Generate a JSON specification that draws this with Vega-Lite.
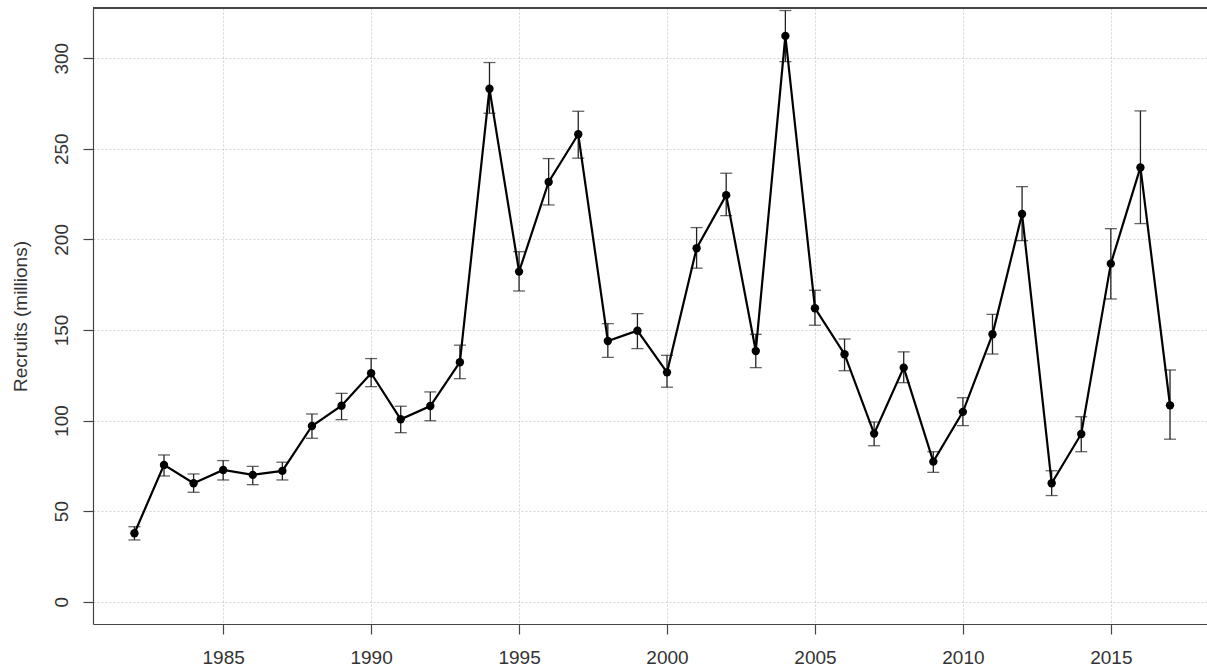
{
  "$schema": "https://vega.github.io/schema/vega-lite/v6.json",
  "autosize": {"type": "none"},
  "padding": {"left": 93, "top": 8, "right": 0, "bottom": 45},
  "width": 1114,
  "height": 616,
  "background": "white",
  "config": {
    "view": {"stroke": null},
    "font": "Liberation Sans",
    "axis": {
      "labelFont": "Liberation Sans",
      "labelFontSize": 19,
      "labelColor": "#333",
      "titleFont": "Liberation Sans",
      "titleFontSize": 19,
      "titleFontWeight": "normal",
      "titleColor": "#333",
      "domainColor": "#444",
      "domainWidth": 1.2,
      "tickColor": "#444",
      "tickWidth": 1.2,
      "tickSize": 10,
      "grid": true,
      "gridColor": "#d3d3d3",
      "gridDash": [2, 2],
      "gridWidth": 1
    }
  },
  "data": {
    "values": [
      {"year": 1982, "recruits": 37.8, "lo": 34.1, "hi": 41.4},
      {"year": 1983, "recruits": 75.5, "lo": 69.4, "hi": 81.0},
      {"year": 1984, "recruits": 65.4, "lo": 60.4, "hi": 70.5},
      {"year": 1985, "recruits": 72.7, "lo": 67.2, "hi": 77.9},
      {"year": 1986, "recruits": 70.0, "lo": 64.6, "hi": 74.7},
      {"year": 1987, "recruits": 72.2, "lo": 67.2, "hi": 77.0},
      {"year": 1988, "recruits": 97.0, "lo": 90.2, "hi": 103.6},
      {"year": 1989, "recruits": 108.2, "lo": 100.5, "hi": 115.0},
      {"year": 1990, "recruits": 126.1, "lo": 118.7, "hi": 134.2},
      {"year": 1991, "recruits": 100.7, "lo": 93.3, "hi": 107.9},
      {"year": 1992, "recruits": 108.0, "lo": 99.9, "hi": 115.8},
      {"year": 1993, "recruits": 132.2, "lo": 123.1, "hi": 141.6},
      {"year": 1994, "recruits": 283.1, "lo": 269.6, "hi": 297.6},
      {"year": 1995, "recruits": 182.2, "lo": 171.5, "hi": 193.2},
      {"year": 1996, "recruits": 231.7, "lo": 219.0, "hi": 244.6},
      {"year": 1997, "recruits": 258.0, "lo": 244.8, "hi": 270.7},
      {"year": 1998, "recruits": 143.9, "lo": 134.9, "hi": 153.5},
      {"year": 1999, "recruits": 149.6, "lo": 139.7, "hi": 159.0},
      {"year": 2000, "recruits": 126.6, "lo": 118.4, "hi": 136.0},
      {"year": 2001, "recruits": 195.1, "lo": 184.1, "hi": 206.5},
      {"year": 2002, "recruits": 224.4, "lo": 213.1, "hi": 236.5},
      {"year": 2003, "recruits": 138.4, "lo": 129.2, "hi": 147.6},
      {"year": 2004, "recruits": 312.3, "lo": 298.1, "hi": 326.3},
      {"year": 2005, "recruits": 162.0, "lo": 152.6, "hi": 171.9},
      {"year": 2006, "recruits": 136.6, "lo": 127.5, "hi": 145.0},
      {"year": 2007, "recruits": 92.8, "lo": 86.1, "hi": 99.2},
      {"year": 2008, "recruits": 129.2, "lo": 120.9, "hi": 137.9},
      {"year": 2009, "recruits": 77.3, "lo": 71.4, "hi": 82.8},
      {"year": 2010, "recruits": 104.8, "lo": 97.2, "hi": 112.6},
      {"year": 2011, "recruits": 147.6, "lo": 136.7, "hi": 158.6},
      {"year": 2012, "recruits": 214.0, "lo": 199.3, "hi": 229.1},
      {"year": 2013, "recruits": 65.4, "lo": 58.6, "hi": 72.3},
      {"year": 2014, "recruits": 92.6, "lo": 82.8, "hi": 102.1},
      {"year": 2015, "recruits": 186.6, "lo": 167.1, "hi": 205.9},
      {"year": 2016, "recruits": 239.7, "lo": 208.7, "hi": 270.9},
      {"year": 2017, "recruits": 108.4, "lo": 89.7, "hi": 127.9}
    ]
  },
  "encoding": {
    "x": {
      "field": "year",
      "type": "quantitative",
      "scale": {"domain": [1980.6, 2018.25], "nice": false, "zero": false},
      "axis": {
        "title": null,
        "values": [1985, 1990, 1995, 2000, 2005, 2010, 2015],
        "format": "d",
        "labelPadding": 14,
        "labelFlush": false
      }
    }
  },
  "layer": [
    {
      "mark": {
        "type": "errorbar",
        "ticks": {"size": 12},
        "color": "#222",
        "thickness": 1.3
      },
      "encoding": {
        "y": {
          "field": "lo",
          "type": "quantitative",
          "scale": {"domain": [-12.3, 327.7], "nice": false, "zero": false},
          "axis": {
            "title": "Recruits (millions)",
            "values": [0, 50, 100, 150, 200, 250, 300],
            "labelAngle": -90,
            "labelAlign": "center",
            "labelBaseline": "bottom",
            "labelPadding": 12,
            "titlePadding": 22,
            "labelFlush": false
          }
        },
        "y2": {"field": "hi"}
      }
    },
    {
      "mark": {"type": "line", "color": "black", "strokeWidth": 2.2},
      "encoding": {
        "y": {"field": "recruits", "type": "quantitative"}
      }
    },
    {
      "mark": {"type": "point", "filled": true, "color": "black", "opacity": 1, "size": 70},
      "encoding": {
        "y": {"field": "recruits", "type": "quantitative"}
      }
    },
    {
      "mark": {"type": "rule", "color": "#444", "strokeWidth": 1.2},
      "encoding": {
        "x": {"value": 0},
        "x2": {"value": 1114},
        "y": {"datum": 327.7}
      }
    }
  ]
}
